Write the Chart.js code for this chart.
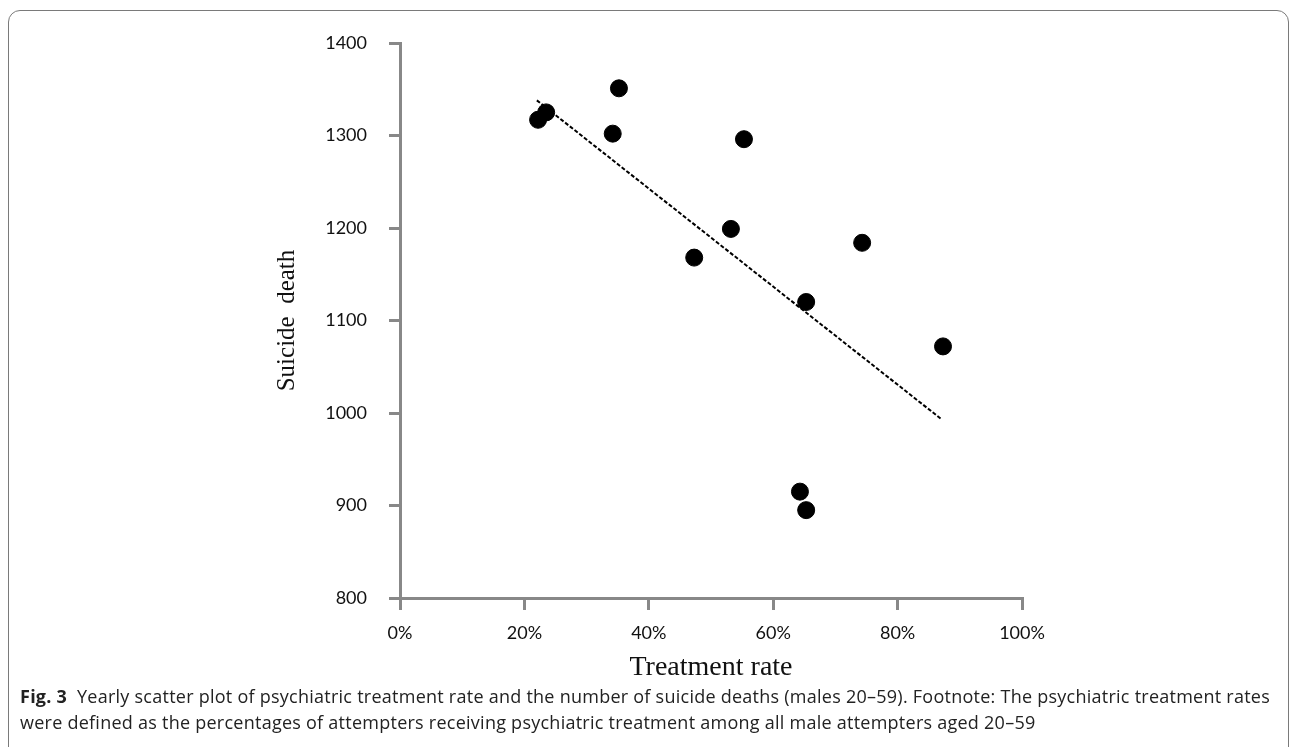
<!DOCTYPE html>
<html>
<head>
<meta charset="utf-8">
<script src="https://cdn.jsdelivr.net/npm/chart.js@4.4.1/dist/chart.umd.min.js"></script>
<style>
  html, body { margin: 0; padding: 0; background: #fff; }
  #wrap { position: relative; width: 1293px; height: 747px; overflow: hidden; }
  #frame {
    position: absolute; left: 8px; top: 10px; width: 1281px; height: 760px;
    border: 1.5px solid #7a7a7a; border-radius: 12px; box-sizing: border-box;
  }
  #chart { position: absolute; left: 0; top: 0; }
  #caption {
    position: absolute; left: 20px; top: 683px; width: 1265px;
    font-family: "Open Sans", sans-serif; font-size: 18px; line-height: 26px;
    color: #222; letter-spacing: 0.25px; white-space: nowrap;
  }
  #caption b { font-weight: 700; }
</style>
</head>
<body>
<div id="wrap">
  <div id="frame"></div>
  <canvas id="chart" width="1293" height="690"></canvas>
  <div id="caption"><b>Fig. 3</b>&nbsp; Yearly scatter plot of psychiatric treatment rate and the number of suicide deaths (males 20–59). Footnote: The psychiatric treatment rates<br>were defined as the percentages of attempters receiving psychiatric treatment among all male attempters aged 20–59</div>
</div>
<script>
// yearly points: treatment rate (%) vs suicide deaths
const treatmentRate = [22.2, 23.5, 34.2, 35.2, 47.3, 53.2, 55.3, 64.3, 65.3, 65.3, 74.3, 87.3];
const suicideDeaths = [1317, 1325, 1302, 1351, 1168, 1199, 1296, 915, 895, 1120, 1184, 1072];

// linear trend line ends
const trendX = [22.0, 87.1];
const trendY = [1338, 993];

const xTicks = [0, 20, 40, 60, 80, 100];
const yTicks = [800, 900, 1000, 1100, 1200, 1300, 1400];

const axisGrey = '#888888';

const ctx = document.getElementById('chart');
const chart = new Chart(ctx, {
    type: 'scatter',
    data: {
        datasets: [{
            label: 'Suicide death',
            data: treatmentRate.map((x, i) => ({x: x, y: suicideDeaths[i]})),
            backgroundColor: '#000',
            borderColor: '#000',
            pointRadius: 8.5,
            pointHoverRadius: 8.5,
            order: 1
        }, {
            label: 'Trend',
            data: trendX.map((x, i) => ({x: x, y: trendY[i]})),
            showLine: true,
            borderColor: '#000',
            borderWidth: 2,
            borderDash: [4, 2],
            pointRadius: 0,
            order: 2
        }]
    },
    options: {
        responsive: false,
        animation: false,
        layout: {
            padding: {left: 272, right: 271, top: 43, bottom: 6}
        },
        plugins: {
            legend: { display: false },
            tooltip: { enabled: false }
        },
        scales: {
            x: {
                type: 'linear',
                min: 0,
                max: 100,
                afterBuildTicks: (scale) => { scale.ticks = xTicks.map(v => ({value: v})); },
                afterFit: (scale) => { scale.height = 86; },
                ticks: {
                    padding: 12,
                    color: '#111',
                    font: { family: 'Lato', size: 18 },
                    callback: (v) => v + '%',
                    maxRotation: 0
                },
                grid: {
                    drawOnChartArea: false,
                    tickLength: 12,
                    color: axisGrey,
                    lineWidth: 3
                },
                border: { color: axisGrey, width: 3 },
                title: {
                    display: true,
                    text: 'Treatment rate',
                    color: '#111',
                    padding: 0,
                    font: { family: 'Liberation Serif', size: 28 }
                }
            },
            y: {
                type: 'linear',
                min: 800,
                max: 1400,
                afterBuildTicks: (scale) => { scale.ticks = yTicks.map(v => ({value: v})); },
                afterFit: (scale) => { scale.width = 128; },
                ticks: {
                    padding: 22,
                    color: '#111',
                    font: { family: 'Lato', size: 18 },
                    callback: (v) => String(v)
                },
                grid: {
                    drawOnChartArea: false,
                    tickLength: 11,
                    color: axisGrey,
                    lineWidth: 3
                },
                border: { color: axisGrey, width: 3 },
                title: {
                    display: true,
                    text: 'Suicide  death',
                    color: '#111',
                    padding: 0,
                    font: { family: 'Liberation Serif', size: 25 }
                }
            }
        }
    }
});
</script>
</body>
</html>
